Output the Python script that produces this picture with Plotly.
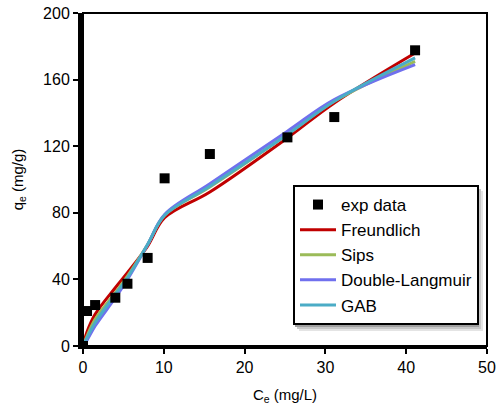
import plotly.graph_objects as go

ce = [0, 0.5, 1.5, 4.0, 5.5, 8.0, 10.1, 15.7, 25.3, 31.1, 41.1]
qe_exp = [0, 21, 24.6, 29, 37.4, 52.9, 100.7, 115.3, 125.3, 137.5, 177.6]
freundlich = [0, 8.5, 19, 35, 44, 60, 77, 92.5, 125, 146, 176]
sips = [0, 6, 16, 32, 42, 61, 78.5, 95.5, 127, 147, 171]
double_langmuir = [0, 3.5, 12, 29, 40, 61, 79, 97.5, 129, 148, 169]
gab = [0, 5, 14, 31, 41, 61, 78.5, 96, 127, 147, 173]

font = "Liberation Sans, Arial, sans-serif"
fig = go.Figure()
models = [("Freundlich", freundlich, "#C00000"),
          ("Sips", sips, "#9BBB59"),
          ("Double-Langmuir", double_langmuir, "#7070EE"),
          ("GAB", gab, "#4BACC6")]
for i, (name, vals, col) in enumerate(models):
    fig.add_trace(go.Scatter(x=ce, y=vals, mode="lines", name=name,
                             line=dict(color=col, width=3, shape="spline", smoothing=1),
                             legendrank=2 + i))
fig.add_trace(go.Scatter(x=ce, y=qe_exp, mode="markers", name="exp data",
                         marker=dict(symbol="square", size=10, color="black"),
                         legendrank=1))

W, H = 496, 409
L, R, T, B = 83, 9, 13, 63
pw, ph = W - L - R, H - T - B


def px_x(p):  # window pixel -> paper x
    return (p - L) / pw


def px_y(p):  # window pixel -> paper y
    return (H - B - p) / ph


shadows = []
for off, col in [(6, "#e4e4e4"), (4, "#c8c8c8"), (2, "#a0a0a0")]:
    shadows.append(dict(type="rect", xref="paper", yref="paper",
                        x0=px_x(293 + off), x1=px_x(477 + off),
                        y0=px_y(325 + off), y1=px_y(185 + off),
                        line=dict(width=0), fillcolor=col, layer="above"))

fig.update_layout(
    width=W, height=H,
    margin=dict(l=L, r=R, t=T, b=B),
    paper_bgcolor="white", plot_bgcolor="white",
    font=dict(family=font, size=16, color="black"),
    showlegend=True,
    legend=dict(x=px_x(293), y=px_y(185), xanchor="left", yanchor="top",
                bordercolor="black", borderwidth=2, bgcolor="white",
                font=dict(size=17), tracegroupgap=0, itemwidth=36),
    shapes=[dict(type="rect", xref="paper", yref="paper", x0=0, x1=1, y0=0, y1=1,
                 line=dict(color="black", width=2), layer="above")] + shadows,
)
fig.update_xaxes(range=[0, 50], tickvals=[0, 10, 20, 30, 40, 50], automargin=False,
                 showline=True, linecolor="black", linewidth=3,
                 ticks="outside", ticklen=5, tickwidth=2, tickcolor="black",
                 showgrid=False, zeroline=False, ticklabeloverflow="allow",
                 title=dict(text="C<sub>e</sub> (mg/L)", font=dict(size=15), standoff=15))
fig.update_yaxes(range=[0, 200], tickvals=[0, 40, 80, 120, 160, 200], automargin=False,
                 showline=True, linecolor="black", linewidth=5,
                 ticks="outside", ticklen=5, tickwidth=2, tickcolor="black",
                 showgrid=False, zeroline=False, ticklabeloverflow="allow",
                 title=dict(text="q<sub>e</sub> (mg/g)", font=dict(size=15), standoff=17))
fig.write_html("out.html", config={"displayModeBar": False},
               post_script="document.body.style.margin='0px';")
